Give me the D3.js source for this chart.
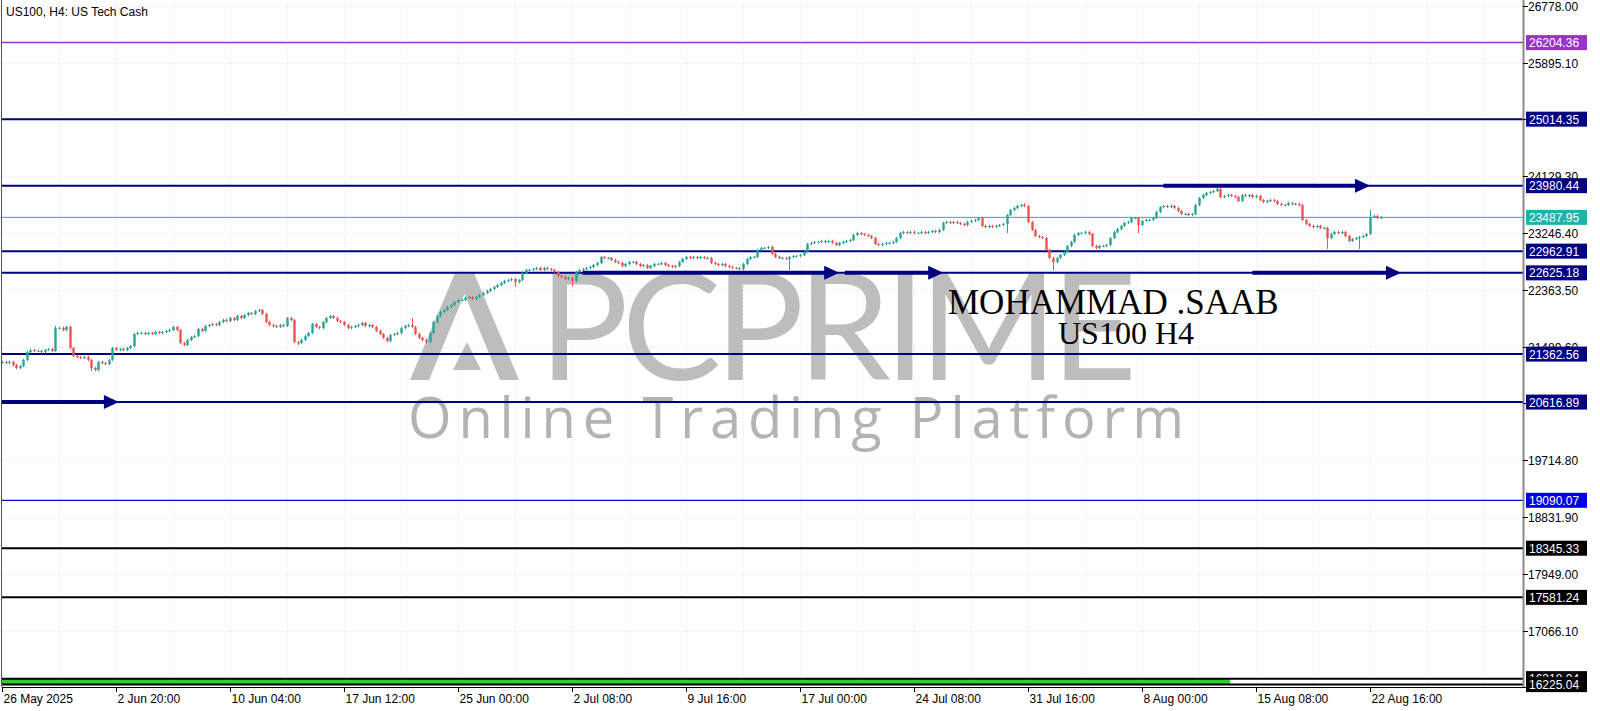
<!DOCTYPE html>
<html>
<head>
<meta charset="utf-8">
<script src="https://cdn.jsdelivr.net/npm/d3@7"></script>
<style>
body { margin: 0; background: #fff; }
svg { display: block; font-family: "Liberation Sans", Arial, sans-serif; }
</style>
</head>
<body>
<div id="chart"></div>
<script>
// closes of each H4 bar (open = previous close)
var closes = [
21240,21224,21240,21193,21147,21178,21271,21395,21426,21411,
21411,21395,21426,21442,21411,21768,21768,21737,21784,21457,
21333,21317,21302,21317,21271,21147,21115,21240,21224,21209,
21271,21457,21426,21442,21426,21457,21488,21675,21691,21691,
21675,21691,21675,21706,21691,21706,21722,21737,21784,21737,
21535,21504,21582,21628,21644,21753,21722,21799,21815,21830,
21815,21861,21893,21877,21924,21893,21955,21924,21970,22001,
21986,22032,22048,21986,21861,21815,21799,21784,21815,21799,
21924,21893,21551,21535,21582,21644,21691,21830,21784,21768,
21861,21924,21955,21924,21877,21861,21815,21768,21784,21799,
21815,21846,21799,21815,21784,21722,21675,21613,21566,21660,
21675,21691,21768,21799,21815,21784,21675,21613,21582,21551,
21691,21861,21955,22017,22048,22094,22126,22172,22203,22203,
22235,22250,22219,22250,22281,22312,22343,22375,22406,22437,
22468,22499,22514,22530,22483,22514,22623,22670,22670,22685,
22701,22670,22701,22685,22670,22639,22577,22561,22530,22546,
22499,22639,22670,22685,22701,22716,22747,22779,22872,22856,
22856,22825,22794,22779,22732,22763,22794,22794,22763,22732,
22747,22701,22732,22763,22763,22779,22747,22732,22716,22732,
22794,22841,22872,22856,22872,22856,22872,22856,22856,22779,
22763,22747,22763,22732,22716,22701,22701,22685,22763,22841,
22872,22872,22981,23012,23012,23027,22919,22872,22856,22856,
22841,22872,22887,22887,22903,22950,23074,23090,23105,23105,
23121,23105,23121,23090,23058,23090,23105,23121,23136,23214,
23245,23229,23214,23198,23167,23074,23058,23074,23090,23090,
23105,23167,23245,23261,23245,23261,23245,23245,23261,23245,
23261,23276,23261,23292,23401,23416,23401,23416,23401,23385,
23369,23416,23432,23447,23478,23354,23338,23354,23338,23354,
23369,23385,23525,23602,23634,23665,23680,23665,23416,23292,
23198,23183,23167,22981,22856,22794,22856,22903,22950,23043,
23105,23214,23245,23245,23261,23229,23043,23012,23043,23043,
23058,23167,23261,23307,23354,23401,23416,23478,23478,23369,
23432,23447,23447,23478,23571,23649,23665,23649,23665,23634,
23587,23540,23540,23525,23540,23680,23789,23836,23867,23882,
23898,23929,23805,23820,23836,23820,23805,23742,23836,23820,
23836,23805,23820,23758,23727,23742,23758,23742,23696,23680,
23680,23711,23696,23696,23680,23447,23385,23354,23338,23354,
23323,23323,23167,23229,23261,23245,23261,23198,23121,23152,
23167,23183,23198,23229,23494,23509,23478,23487.95
];
var firstOpen = 21230;
var wickSize = 18;
// [bar index, high, low] for the bars with long shadows
var longWicks = [
  [15, 21800, 21400], [25, 21271, 21100], [83, 21551, 21504], [115, 21924, 21770],
  [119, 21582, 21520], [144, 22530, 22406], [160, 22546, 22406], [221, 22880, 22670],
  [282, 23540, 23245], [295, 22856, 22670], [319, 23478, 23245], [341, 23960, 23880],
  [287, 23711, 23650], [372, 23323, 22996], [381, 23183, 22996], [384, 23602, 23210]
];

var timeLabels = ["26 May 2025", "2 Jun 20:00", "10 Jun 04:00", "17 Jun 12:00", "25 Jun 00:00",
  "2 Jul 08:00", "9 Jul 16:00", "17 Jul 00:00", "24 Jul 08:00", "31 Jul 16:00",
  "8 Aug 00:00", "15 Aug 08:00", "22 Aug 16:00"];
var barsPerLabel = 32;

var priceTicks = [26778.00, 25895.10, 25012.20, 24129.30, 23246.40, 22363.50, 21480.60,
  20597.70, 19714.80, 18831.90, 17949.00, 17066.10, 16183.20];

var levelPrices = [26204.36, 25014.35, 23980.44, 22962.91, 22625.18, 21362.56, 20616.89,
  19090.07, 18345.33, 17581.24, 16318.04, 16225.04];
var levelKinds = ["purple", "navy", "navy", "navy", "navy", "navy", "navy",
  "blue", "black", "black", "black", "black"];
var currentPrice = 23487.95;

// green band between the two bottom levels, up to this bar
var bandTop = 16318.04, bandBottom = 16225.04, bandEnd = 344.7;

// arrows: [start bar, end bar, price]
var arrows = [[0, 32.8, 20616.89], [163, 235, 22625.18], [236.6, 264.2, 22625.18],
  [326, 384, 23980.44], [351, 392.7, 22625.18]];

var W = 1600, H = 711;
var plotL = 2, plotR = 1523, plotB = 687;

var kindColor = {purple: "#9932cc", navy: "#000080", blue: "#0000cd", black: "#000000"};
var kindWidth = {purple: 1.5, navy: 2, blue: 1.2, black: 2};

var x = d3.scaleLinear().domain([0, 384]).range([2, 1370]);
var y = d3.scaleLinear().domain([26778, 16183.2]).range([5.7, 687.3]);

var svg = d3.select("#chart").append("svg")
  .attr("width", W).attr("height", H);

svg.append("rect").attr("width", W).attr("height", H).attr("fill", "#fff");

var plot = svg.append("g");

// grid
for (var g = 16; x(g) < plotR; g += 16) {
  plot.append("line")
    .attr("x1", Math.round(x(g)) + 0.5).attr("x2", Math.round(x(g)) + 0.5)
    .attr("y1", 2).attr("y2", plotB)
    .attr("stroke", "#dcdcdc").attr("stroke-dasharray", "1,3");
}
priceTicks.forEach(function(p){
  plot.append("line")
    .attr("x1", plotL).attr("x2", plotR)
    .attr("y1", Math.round(y(p)) + 0.5).attr("y2", Math.round(y(p)) + 0.5)
    .attr("stroke", "#dcdcdc").attr("stroke-dasharray", "1,3");
});

// watermark
var wm = plot.append("g").attr("fill", "#bdbdbd");
wm.append("path")
  .attr("d", "M455,273 L474,273 L519,380 L500,380 L464.5,294 L429,380 L410,380 Z");
wm.append("path").attr("d", "M467,342 L481,370 L453,370 Z");
wm.append("text")
  .attr("x", 539).attr("y", 380)
  .attr("font-family", "Lato, 'Open Sans', sans-serif")
  .attr("font-size", 149)
  .attr("textLength", 598).attr("lengthAdjust", "spacing")
  .text("PCPRIME");
plot.append("text")
  .attr("x", 408).attr("y", 438)
  .attr("fill", "#b3b3b3")
  .attr("font-family", "'Open Sans', Lato, sans-serif")
  .attr("font-size", 56)
  .attr("textLength", 776).attr("lengthAdjust", "spacing")
  .text("Online Trading Platform");

// current price line
plot.append("line")
  .attr("x1", plotL).attr("x2", plotR)
  .attr("y1", y(currentPrice)).attr("y2", y(currentPrice))
  .attr("stroke", "#20b2aa").attr("stroke-width", 1);

// green band
plot.append("rect")
  .attr("x", plotL).attr("width", x(bandEnd) - plotL)
  .attr("y", y(bandTop)).attr("height", y(bandBottom) - y(bandTop))
  .attr("fill", "#32cd32");

// level lines
levelPrices.forEach(function(p, i){
  var k = levelKinds[i];
  plot.append("line")
    .attr("x1", plotL).attr("x2", plotR)
    .attr("y1", y(p)).attr("y2", y(p))
    .attr("stroke", kindColor[k]).attr("stroke-width", kindWidth[k]);
});

// candles
var bars = closes.map(function(c, i){
  var o = i === 0 ? firstOpen : closes[i - 1];
  return {i: i, o: o, c: c, h: Math.max(o, c) + wickSize, l: Math.min(o, c) - wickSize};
});
longWicks.forEach(function(w){
  var b = bars[w[0]];
  b.h = Math.max(b.h, w[1]);
  b.l = Math.min(b.l, w[2]);
});

var candle = plot.selectAll(".candle").data(bars).enter().append("g")
  .attr("class", "candle");
candle.append("line")
  .attr("x1", function(d){ return Math.round(x(d.i)) + 0.5; })
  .attr("x2", function(d){ return Math.round(x(d.i)) + 0.5; })
  .attr("y1", function(d){ return y(d.h); })
  .attr("y2", function(d){ return y(d.l); })
  .attr("stroke", function(d){ return d.c >= d.o ? "#26a69a" : "#ef5350"; })
  .attr("stroke-width", 1);
candle.append("rect")
  .attr("x", function(d){ return Math.round(x(d.i)) - 0.7; })
  .attr("width", 2.4)
  .attr("y", function(d){ return y(Math.max(d.o, d.c)); })
  .attr("height", function(d){ return Math.max(1, Math.abs(y(d.o) - y(d.c))); })
  .attr("fill", function(d){ return d.c >= d.o ? "#26a69a" : "#ef5350"; });

// arrows
arrows.forEach(function(a){
  var x1 = x(a[0]), x2 = x(a[1]), yy = y(a[2]);
  plot.append("line")
    .attr("x1", x1).attr("x2", x2 - 10)
    .attr("y1", yy).attr("y2", yy)
    .attr("stroke", "#000080").attr("stroke-width", 4);
  plot.append("path")
    .attr("d", "M" + x2 + "," + yy + " L" + (x2 - 15) + "," + (yy - 7) +
      " L" + (x2 - 15) + "," + (yy + 7) + " Z")
    .attr("fill", "#000080");
});

// annotation text
plot.append("text")
  .attr("x", 948).attr("y", 314)
  .attr("font-family", "'Liberation Serif', 'Times New Roman', serif")
  .attr("font-size", 35).attr("fill", "#000")
  .text("MOHAMMAD .SAAB");
plot.append("text")
  .attr("x", 1058).attr("y", 344)
  .attr("font-family", "'Liberation Serif', 'Times New Roman', serif")
  .attr("font-size", 32).attr("fill", "#000")
  .text("US100 H4");

// title
svg.append("text")
  .attr("x", 6).attr("y", 16)
  .attr("font-size", 12).attr("fill", "#000")
  .text("US100, H4:  US Tech Cash");

// frame and axes
svg.append("line").attr("x1", 1.5).attr("x2", 1.5).attr("y1", 0).attr("y2", plotB)
  .attr("stroke", "#555");
svg.append("line").attr("x1", plotR + 0.5).attr("x2", plotR + 0.5).attr("y1", 0).attr("y2", plotB)
  .attr("stroke", "#8a8a8a").attr("stroke-width", 2);
svg.append("line").attr("x1", plotL).attr("x2", plotR + 1).attr("y1", plotB + 0.5).attr("y2", plotB + 0.5)
  .attr("stroke", "#000");

// time axis
timeLabels.forEach(function(t, i){
  var tx = Math.round(x(i * barsPerLabel)) + 0.5;
  svg.append("line").attr("x1", tx).attr("x2", tx).attr("y1", plotB).attr("y2", plotB + 5)
    .attr("stroke", "#000");
  svg.append("text").attr("x", tx + 1).attr("y", 703)
    .attr("font-size", 12).attr("fill", "#000").text(t);
});

// price axis
priceTicks.forEach(function(p){
  var ty = Math.round(y(p)) + 0.5;
  svg.append("line").attr("x1", plotR).attr("x2", plotR + 5).attr("y1", ty).attr("y2", ty)
    .attr("stroke", "#000");
  svg.append("text").attr("x", 1528).attr("y", ty + 4.5)
    .attr("font-size", 12).attr("fill", "#000").text(p.toFixed(2));
});

// price labels for the levels
function priceBox(p, fill){
  var by = y(p);
  svg.append("rect").attr("x", 1526).attr("y", by - 7.5).attr("width", 61).attr("height", 15)
    .attr("fill", fill);
  svg.append("text").attr("x", 1529).attr("y", by + 4.5)
    .attr("font-size", 12).attr("fill", "#fff").text(p.toFixed(2));
}
levelPrices.forEach(function(p, i){
  priceBox(p, levelKinds[i] === "blue" ? "#0000e6" : kindColor[levelKinds[i]]);
});
priceBox(currentPrice, "#20b2aa");
</script>
</body>
</html>
